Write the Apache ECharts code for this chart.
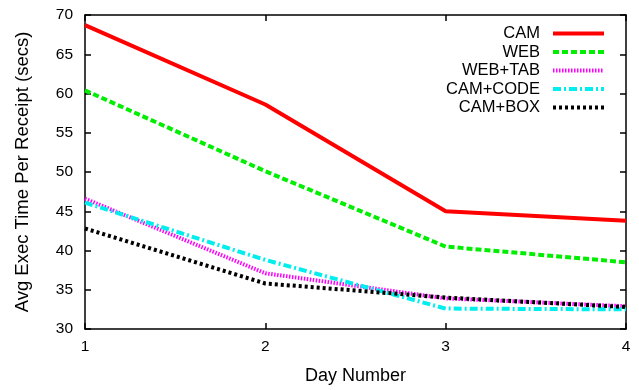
<!DOCTYPE html>
<html>
<head>
<meta charset="utf-8">
<script src="https://cdn.jsdelivr.net/npm/echarts@6/dist/echarts.min.js"></script>
<style>
  html, body { margin: 0; padding: 0; background: #fff; }
  #chart { width: 639px; height: 390px; }
</style>
</head>
<body>
<div id="chart"></div>
<script>
// 数据
const days = [1, 2, 3, 4];
const cam = [68.7, 58.6, 45.0, 43.8];
const web = [60.4, 50.1, 40.5, 38.5];
const webTab = [46.6, 37.1, 33.9, 32.9];
const camCode = [46.1, 38.8, 32.6, 32.5];
const camBox = [42.8, 35.8, 34.0, 32.8];
const yTicks = [30, 35, 40, 45, 50, 55, 60, 65, 70];

const FONT = "Liberation Sans";

function pairs(vals) {
  return days.map((d, i) => [d, vals[i]]);
}

function makeSeries(name, vals, color, type) {
  return {
    name: name,
    type: "line",
    data: pairs(vals),
    symbol: "none",
    xAxisIndex: 0,
    yAxisIndex: 0,
    lineStyle: { color: color, width: 4, type: type, cap: "butt" },
    itemStyle: { color: color },
    emphasis: { disabled: true },
  };
}

const chart = echarts.init(document.getElementById("chart"));

const axisLine = { show: true, lineStyle: { color: "#000", width: 1.5 } };
const axisTick = { show: true, inside: true, length: 6, lineStyle: { color: "#000", width: 1.5 } };

chart.setOption({
  animation: false,
  textStyle: { fontFamily: FONT },
  grid: { left: 85, right: 13, top: 15, bottom: 59 },
  legend: {
    orient: "vertical",
    align: "right",
    right: 28,
    top: 20,
    itemWidth: 51,
    itemHeight: 14,
    itemGap: 1.5,
    itemStyle: { opacity: 0 },
    lineStyle: { width: 4 },
    textStyle: { fontFamily: FONT, fontSize: 16.5, color: "#000", padding: [0, 8, 0, 0] },
    data: ["CAM", "WEB", "WEB+TAB", "CAM+CODE", "CAM+BOX"],
  },
  xAxis: [
    {
      type: "value",
      min: 1,
      max: 4,
      interval: 1,
      name: "Day Number",
      nameLocation: "middle",
      nameGap: 38,
      nameTextStyle: { fontFamily: FONT, fontSize: 18, color: "#000" },
      axisLine: axisLine,
      axisTick: axisTick,
      splitLine: { show: false },
      axisLabel: { color: "#000", fontSize: 15.5, fontFamily: FONT, margin: 10 },
    },
    {
      type: "value",
      position: "top",
      min: 1,
      max: 4,
      interval: 1,
      axisLine: axisLine,
      axisTick: axisTick,
      splitLine: { show: false },
      axisLabel: { show: false },
    },
  ],
  yAxis: [
    {
      type: "value",
      min: yTicks[0],
      max: yTicks[yTicks.length - 1],
      interval: 5,
      name: "Avg Exec Time Per Receipt (secs)",
      nameLocation: "middle",
      nameGap: 53,
      nameTextStyle: { fontFamily: FONT, fontSize: 18.5, color: "#000" },
      axisLine: axisLine,
      axisTick: axisTick,
      splitLine: { show: false },
      axisLabel: { color: "#000", fontSize: 15.5, fontFamily: FONT, margin: 12 },
    },
    {
      type: "value",
      position: "right",
      min: yTicks[0],
      max: yTicks[yTicks.length - 1],
      interval: 5,
      axisLine: axisLine,
      axisTick: axisTick,
      splitLine: { show: false },
      axisLabel: { show: false },
    },
  ],
  series: [
    makeSeries("CAM", cam, "#ff0000", "solid"),
    makeSeries("WEB", web, "#00ee00", [6, 3]),
    makeSeries("WEB+TAB", webTab, "#ff00ff", [1.5, 1.5]),
    makeSeries("CAM+CODE", camCode, "#00eeee", [8, 3, 2, 3]),
    makeSeries("CAM+BOX", camBox, "#000000", [3, 3]),
  ],
});

window.addEventListener("resize", () => {
  chart.resize();
});
</script>
</body>
</html>
